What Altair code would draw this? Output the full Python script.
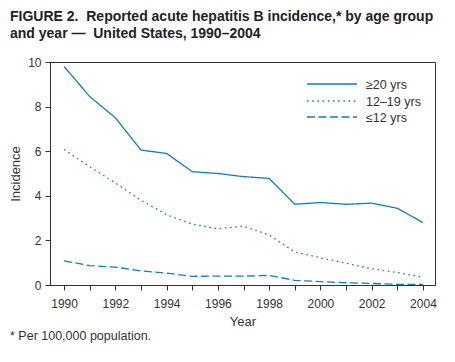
import altair as alt
import pandas as pd

years = list(range(1990, 2005))
adult = [9.8, 8.45, 7.5, 6.05, 5.9, 5.08, 5.0, 4.86, 4.78, 3.62, 3.7, 3.62, 3.67, 3.44, 2.8]
teen = [6.08, 5.3, 4.58, 3.8, 3.15, 2.73, 2.52, 2.64, 2.24, 1.48, 1.22, 0.98, 0.73, 0.56, 0.35]
child = [1.08, 0.87, 0.8, 0.63, 0.53, 0.39, 0.4, 0.4, 0.43, 0.21, 0.15, 0.1, 0.07, 0.03, 0.03]
groups = ["\u226520 yrs", "12\u201319 yrs", "\u226412 yrs"]
dashes = [[1, 0], [1.6, 3.6], [8, 3.5]]
year_labels = [1990, 1992, 1994, 1996, 1998, 2000, 2002, 2004]

rows = []
for g, vals in zip(groups, [adult, teen, child]):
    for y, v in zip(years, vals):
        rows.append({"year": y, "value": v, "group": g})
df = pd.DataFrame(rows)

FONT = "Liberation Sans"
BLUE = "#0f7dc2"
W, H = 385, 223
label_expr = "indexof(" + str(year_labels) + ", datum.value) >= 0 ? datum.value : ''"

lines = alt.Chart(df).mark_line(strokeWidth=1.3, color=BLUE).encode(
    x=alt.X("year:Q", scale=alt.Scale(domain=[1989.45, 2004.47], nice=False, zero=False),
            axis=alt.Axis(title="Year", values=years, labelExpr=label_expr,
                          format="d", grid=False, tickSize=5, labelPadding=8, titlePadding=6,
                          labelFlush=False)),
    y=alt.Y("value:Q", scale=alt.Scale(domain=[0, 10], nice=False),
            axis=alt.Axis(title="Incidence", values=[0, 2, 4, 6, 8, 10], grid=False, tickSize=5,
                          labelPadding=4, titlePadding=5)),
    detail="group:N",
    strokeDash=alt.StrokeDash("group:N", sort=groups,
                              scale=alt.Scale(domain=groups, range=dashes),
                              legend=None),
)

# manual legend (key lines + labels)
one = pd.DataFrame({"k": [0]})
legend_layers = []
row_y = [22, 39, 55]
for g, d, ry in zip(groups, dashes, row_y):
    legend_layers.append(
        alt.Chart(one).mark_rule(strokeWidth=1.3, color=BLUE, strokeDash=d).encode(
            x=alt.value(257), x2=alt.value(307), y=alt.value(ry))
    )
    legend_layers.append(
        alt.Chart(one).mark_text(align="left", baseline="middle", font=FONT, fontSize=12.5,
                                 color="#333", dy=1, text=g).encode(
            x=alt.value(316), y=alt.value(ry))
    )

foot = alt.Chart(pd.DataFrame({"t": ["* Per 100,000 population."]})).mark_text(
    align="left", baseline="alphabetic", font=FONT, fontSize=12.5, color="#333"
).encode(x=alt.value(-40), y=alt.value(H + 55), text="t:N")

chart = alt.layer(lines, *legend_layers, foot).properties(
    width=W, height=H,
    autosize=alt.AutoSizeParams(type="none"),
    padding={"left": 42, "top": 54, "right": 10, "bottom": 70},
    title=alt.TitleParams(
        text=["FIGURE 2.\u00a0 Reported acute hepatitis B incidence,* by age group",
              "and year \u2014\u00a0 United States, 1990\u20132004"],
        anchor="start", frame="group", dx=-40, offset=15, font=FONT, fontSize=14,
        fontWeight="bold", color="#222", lineHeight=17,
    ),
).configure_view(stroke="#333", strokeWidth=1).configure_axis(
    domainColor="#333", tickColor="#333", labelColor="#333", titleColor="#333",
    labelFont=FONT, titleFont=FONT, labelFontSize=12, titleFontSize=13, titleFontWeight="normal"
)

chart.save("out.html", embed_options={"renderer": "svg", "actions": False})
